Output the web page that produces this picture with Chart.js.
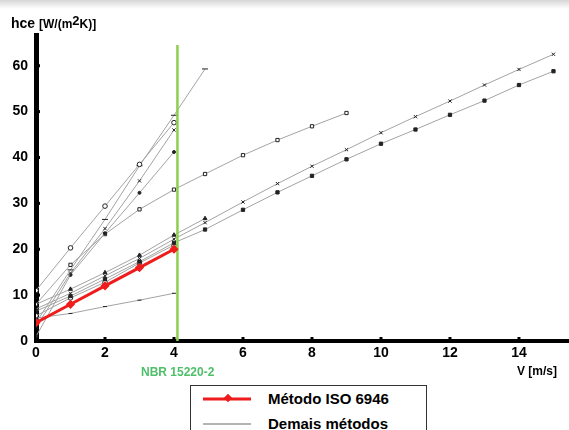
<!DOCTYPE html>
<html><head><meta charset="utf-8">
<script src="https://cdn.jsdelivr.net/npm/chart.js@4.4.1/dist/chart.umd.min.js"></script>
<style>
html,body{margin:0;padding:0;background:#fff;}
#wrap{position:relative;width:569px;height:430px;overflow:hidden;font-family:"Liberation Sans",Arial,sans-serif;background:#fff;}
#topband{position:absolute;left:0;top:0;width:569px;height:9px;background:linear-gradient(#d6d6d6,#ffffff);}
canvas{position:absolute;left:0;top:0;}
.lbl{position:absolute;font-weight:bold;white-space:nowrap;color:#000;}
#legend{position:absolute;left:190px;top:385px;width:235px;height:60px;border:1px solid #333;background:#fff;}
</style></head>
<body>
<div id="wrap">
  <div id="topband"></div>
  <canvas id="c" width="569" height="430"></canvas>
  <div class="lbl" style="left:11px;top:16px;font-size:14px;line-height:14px;">hce <span style="font-size:12px;">[W/(m<span style="font-size:13px;position:relative;top:-3px;">2</span>K)]</span></div>
  <div class="lbl" style="left:141px;top:365px;font-size:12px;line-height:14px;color:#4fbf6a;">NBR 15220-2</div>
  <div class="lbl" style="left:517px;top:364px;font-size:12px;line-height:14px;">V [m/s]</div>
  <div id="legend">
    <svg width="60" height="60" style="position:absolute;left:0;top:0;">
      <line x1="12" y1="13" x2="60" y2="13" stroke="#ee1c1c" stroke-width="3"/>
      <rect x="34" y="9" width="6" height="6" fill="#ee1c1c" transform="rotate(45 37 12)"/>
      <line x1="12" y1="38" x2="60" y2="38" stroke="#9a9a9a" stroke-width="1.5"/>
    </svg>
    <div class="lbl" style="left:77px;top:5px;font-size:15px;line-height:16px;">Método ISO 6946</div>
    <div class="lbl" style="left:77px;top:30px;font-size:15px;line-height:16px;">Demais métodos</div>
  </div>
</div>
<script>
// ---- data ----
const vBase = [0, 1, 2, 3, 4];
const vTo49 = [0, 1, 2, 3, 4, 4.9];
const vTo9 = [0, 1, 2, 3, 4, 4.9, 6, 7, 8, 9];
const vTo15 = [0, 1, 2, 3, 4, 4.9, 6, 7, 8, 9, 10, 11, 12, 13, 14, 15];

const hceIso = [4, 8, 12, 16, 20];                       // Método ISO 6946
const hceCircleHigh = [11, 20.3, 29.4, 38.5, 47.6];
const hceDash = [4, 15.5, 26.5, 38.2, 49.2, 59.3];
const hceCrossHigh = [3, 14.8, 24.5, 34.9, 46];
const hceDotHigh = [1, 14.4, 23.5, 32.3, 41.2];
const hceSquareOpen = [8, 16.6, 23.3, 28.7, 33, 36.4, 40.5, 43.8, 46.8, 49.7];
const hceTriangle = [8, 11.3, 14.9, 18.7, 23.1, 26.7];
const hceCrossLong = [7, 10.4, 14.2, 18.0, 22.2, 25.8, 30.3, 34.3, 38.1, 41.7, 45.4, 48.9, 52.3, 55.8, 59.2, 62.5];
const hceSquareLong = [6.5, 9.8, 13.5, 17.3, 21.4, 24.3, 28.6, 32.4, 36, 39.6, 43, 46.1, 49.3, 52.4, 55.8, 58.8];
const hceCircleLow = [5.5, 9.4, 12.8, 17.0, 20.9];
const hceLowest = [5, 6.0, 7.5, 8.9, 10.4];

const vNbr = [4.1, 4.1];       // NBR 15220-2 limit
const hceNbr = [0, 64.5];

const xTicks = [0, 2, 4, 6, 8, 10, 12, 14];
const yTicks = [0, 10, 20, 30, 40, 50, 60];

// ---- build ----
const pts = (xs, ys) => xs.map((x, i) => ({x: x, y: ys[i]}));
const GRAY = '#a3a3a3';
function other(xs, ys, style, filled, r) {
  return {
    data: pts(xs, ys), borderColor: GRAY, borderWidth: 1,
    pointStyle: style, pointRadius: r || 2.3,
    pointBackgroundColor: filled ? '#222' : '#fff',
    pointBorderColor: '#222', pointBorderWidth: 1, tension: 0
  };
}
const datasets = [
  {data: pts(vBase, hceIso), borderColor: '#ee1c1c', borderWidth: 3, pointStyle: 'rectRot',
   pointRadius: 2.5, pointBackgroundColor: '#ee1c1c', pointBorderColor: '#ee1c1c', tension: 0},
  {data: pts(vNbr, hceNbr), borderColor: '#8ccf4d', borderWidth: 2.5, pointRadius: 0},
  other(vBase, hceCircleHigh, 'circle', false),
  other(vTo49, hceDash, 'line', true, 3),
  other(vBase, hceCrossHigh, 'crossRot', false),
  other(vBase, hceDotHigh, 'circle', true, 1.5),
  other(vTo9, hceSquareOpen, 'rect', false),
  other(vTo49, hceTriangle, 'triangle', true),
  other(vTo15, hceCrossLong, 'crossRot', false),
  other(vTo15, hceSquareLong, 'rect', true),
  other(vBase, hceCircleLow, 'circle', false),
  other(vBase, hceLowest, 'line', true, 2)
];

const tickDots = {
  id: 'tickDots',
  afterDraw(chart) {
    const ctx = chart.ctx, xs = chart.scales.x, ys = chart.scales.y, a = chart.chartArea;
    ctx.save(); ctx.fillStyle = '#000';
    xTicks.forEach(v => { if (v > 0) ctx.fillRect(xs.getPixelForValue(v) - 1.5, a.bottom - 4, 3, 3); });
    yTicks.forEach(v => { if (v > 0) ctx.fillRect(a.left + 1, ys.getPixelForValue(v) - 1.5, 3, 3); });
    ctx.restore();
  }
};

const font = {family: '"Liberation Sans", Arial, sans-serif', size: 14, weight: 'bold'};
new Chart(document.getElementById('c'), {
  type: 'line',
  data: {datasets},
  plugins: [tickDots],
  options: {
    responsive: false, animation: false,
    layout: {autoPadding: false, padding: {top: 35, right: 0, left: 0, bottom: 0}},
    plugins: {legend: {display: false}, tooltip: {enabled: false}},
    scales: {
      x: {
        type: 'linear', min: 0, max: 15.45,
        afterFit: s => { s.height = 89; s.paddingLeft = 0; s.paddingRight = 0; },
        afterBuildTicks: s => { s.ticks = xTicks.map(v => ({value: v})); },
        grid: {display: true, drawOnChartArea: false, drawTicks: true, tickLength: 3, color: 'rgba(0,0,0,0)'},
        border: {display: true, color: '#000', width: 4},
        ticks: {color: '#000', font, padding: 1, maxRotation: 0}
      },
      y: {
        type: 'linear', min: 0, max: 66.7,
        afterFit: s => { s.width = 36; },
        afterBuildTicks: s => { s.ticks = yTicks.map(v => ({value: v})); },
        grid: {display: true, drawOnChartArea: false, drawTicks: true, tickLength: 3, color: 'rgba(0,0,0,0)'},
        border: {display: true, color: '#000', width: 5},
        ticks: {color: '#000', font, padding: 5}
      }
    }
  }
});
</script>
</body></html>
